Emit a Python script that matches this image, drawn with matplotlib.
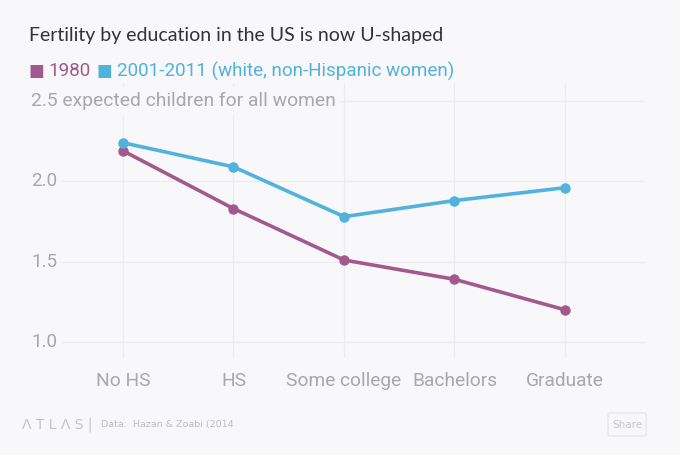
import matplotlib

matplotlib.use("Agg")
import matplotlib.pyplot as plt
from matplotlib.patches import FancyBboxPatch

# ---- data -------------------------------------------------------------------
categories = ["No HS", "HS", "Some college", "Bachelors", "Graduate"]
fert_1980 = [2.19, 1.83, 1.51, 1.39, 1.20]
fert_2001_2011 = [2.24, 2.09, 1.78, 1.88, 1.96]
y_ticks = [1.0, 1.5, 2.0, 2.5]
y_labels = ["1.0", "1.5", "2.0", "2.5 expected children for all women"]

# ---- palette ----------------------------------------------------------------
BG = "#f8f8fa"
PURPLE = "#a25a8e"
BLUE = "#51b2dc"
TITLE = "#333333"
TICK = "#a8a8a8"
GRID = "#ececf0"

W, H = 680, 455
fig = plt.figure(figsize=(W / 100, H / 100), dpi=100)
fig.patch.set_facecolor(BG)


def px(x, y):
    return x / W, 1 - y / H


ax = fig.add_axes([60 / W, 97 / H, (646 - 60) / W, (372 - 97) / H])
ax.set_facecolor(BG)
for s in ax.spines.values():
    s.set_visible(False)

xs = list(range(len(categories)))
ax.set_xlim(-0.57, 4.733)
ax.set_ylim(0.90, 2.612)

for yt in y_ticks:
    ax.axhline(yt, color=GRID, lw=0.9, zorder=0)
for x in xs:
    ax.axvline(x, color=GRID, lw=0.9, zorder=0)

ax.plot(xs, fert_1980, color=PURPLE, lw=2.6, marker="o", ms=6.5, zorder=3,
        solid_capstyle="round")
ax.plot(xs, fert_2001_2011, color=BLUE, lw=2.6, marker="o", ms=6.5, zorder=3,
        solid_capstyle="round")

ax.set_xticks(xs)
ax.set_xticklabels(categories)
ax.set_yticks([])
ax.tick_params(axis="x", length=0, pad=10, labelsize=13.8, labelcolor=TICK)
for lab in ax.get_xticklabels():
    lab.set_family(["Liberation Sans Narrow", "Roboto", "DejaVu Sans"])

# y labels sit inside the plot, left of the gridlines
for yt, lab in zip(y_ticks, y_labels):
    _, fy = ax.transData.transform((0, yt))
    fy = fig.transFigure.inverted().transform((0, fy))[1]
    fam = ["Liberation Sans Narrow", "Roboto", "DejaVu Sans"] if yt < 2.5 else ["Roboto", "DejaVu Sans"]
    fig.text(31 / W, fy, lab, ha="left", va="center", color=TICK,
             fontsize=13.5 if yt < 2.5 else 13.9, family=fam,
             bbox=dict(boxstyle="square,pad=0.25", fc=BG, ec="none"), zorder=5)

# ---- title + legend -----------------------------------------------------------
fig.text(*px(29, 36), "Fertility by education in the US is now U-shaped", ha="left",
         va="center", color=TITLE, fontsize=14, family=["Lato", "DejaVu Sans"])

fig.text(*px(28, 71), "■", ha="left", va="center", color=PURPLE, fontsize=12,
         family="DejaVu Sans")
fig.text(*px(48, 71), "1980", ha="left", va="center", color=PURPLE, fontsize=13.6,
         family=["Roboto", "DejaVu Sans"])
fig.text(*px(97, 71), "■", ha="left", va="center", color=BLUE, fontsize=12,
         family="DejaVu Sans")
fig.text(*px(117, 71), "2001-2011 (white, non-Hispanic women)", ha="left", va="center",
         color=BLUE, fontsize=13.6, family=["Roboto", "DejaVu Sans"])

# ---- footer -------------------------------------------------------------------
fig.text(*px(22, 425), "Λ T L Λ S |", ha="left", va="center", color="#c4c4c8", fontsize=10,
         family="DejaVu Sans")
fig.text(*px(101, 425), "Data:  Hazan & Zoabi (2014", ha="left", va="center",
         color="#bdbdc2", fontsize=6.8, family=["Liberation Sans Narrow", "DejaVu Sans"])

bx0, by0 = px(608, 436)
bx1, by1 = px(646, 413)
fig.patches.append(FancyBboxPatch((bx0, by0), bx1 - bx0, by1 - by0,
                                  boxstyle="round,pad=0,rounding_size=0.004",
                                  transform=fig.transFigure, fc=BG, ec="#e6e6ea", lw=0.9))
fig.text((bx0 + bx1) / 2, (by0 + by1) / 2, "Share", ha="center", va="center",
         color="#c8c8cc", fontsize=7.5, family=["Liberation Sans Narrow", "DejaVu Sans"])

fig.savefig("out.png", dpi=100, facecolor=BG)
